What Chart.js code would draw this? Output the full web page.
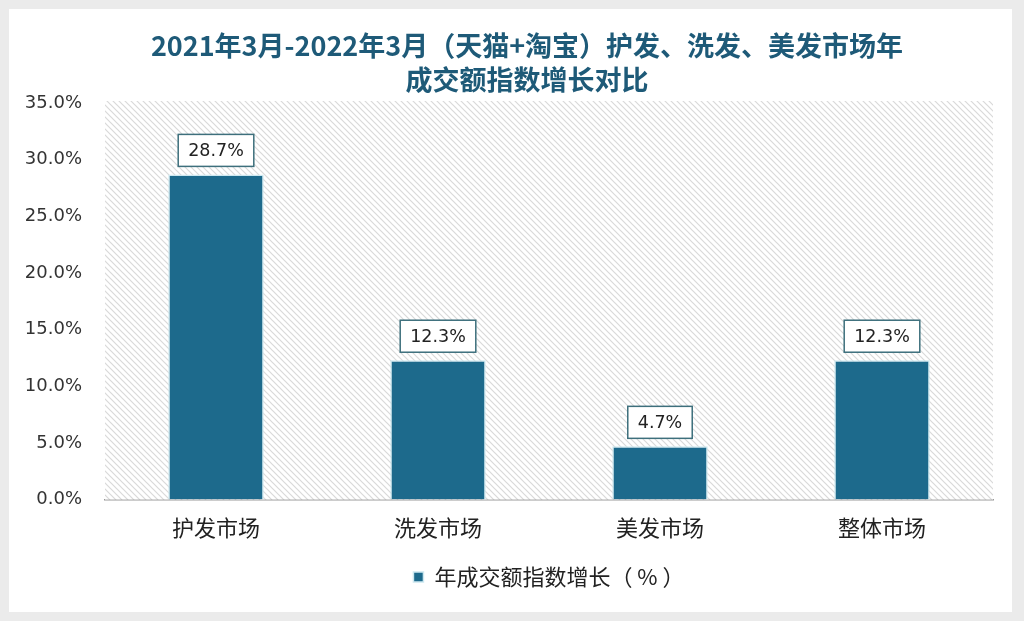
<!DOCTYPE html>
<html>
<head>
<meta charset="utf-8">
<script src="https://cdn.jsdelivr.net/npm/chart.js@4"></script>
<style>
  html, body { margin: 0; padding: 0; background: #ebebeb; }
  #card {
    position: absolute; left: 9px; top: 9px;
    width: 1003px; height: 603px; background: #fff;
  }
</style>
</head>
<body>
<div id="card"><canvas id="chart" width="1003" height="603"></canvas></div>
<script>
const categories = ["护发市场", "洗发市场", "美发市场", "整体市场"];
const growth = [28.7, 12.3, 4.7, 12.3];
const yTicks = [0, 5, 10, 15, 20, 25, 30, 35];
const seriesName = "年成交额指数增长（ % ）";
const titleLines = ["2021年3月-2022年3月（天猫+淘宝）护发、洗发、美发市场年", "成交额指数增长对比"];

// diagonal hatching behind the bars
function makeHatch() {
  const c = document.createElement("canvas");
  c.width = 6;
  c.height = 6;
  const g = c.getContext("2d");
  g.fillStyle = "#fff";
  g.fillRect(0, 0, 6, 6);
  g.strokeStyle = "#d9d9d9";
  g.lineWidth = 1.2;
  g.beginPath();
  g.moveTo(-1, -1); g.lineTo(7, 7);
  g.moveTo(-4, 2); g.lineTo(2, 8);
  g.moveTo(2, -4); g.lineTo(8, 2);
  g.stroke();
  return c;
}

const hatchBg = {
  id: "hatchBg",
  beforeDatasetsDraw(chart) {
    const { ctx, chartArea: a } = chart;
    ctx.save();
    ctx.fillStyle = ctx.createPattern(makeHatch(), "repeat");
    ctx.fillRect(a.left, a.top - 2, a.right - a.left, a.bottom - a.top + 2);
    ctx.restore();
  },
};

// the title sits a bit right of the canvas centre, so draw it by hand
const sideTitle = {
  id: "sideTitle",
  afterDraw(chart) {
    const { ctx } = chart;
    ctx.save();
    ctx.font = "bold 27px 'Noto Sans CJK SC'";
    ctx.fillStyle = "#1e5a78";
    ctx.textAlign = "center";
    ctx.textBaseline = "middle";
    titleLines.forEach((line, i) => ctx.fillText(line, 518, 37 + i * 34));
    ctx.restore();
  },
};

const boxLabels = {
  id: "boxLabels",
  afterDatasetsDraw(chart) {
    const { ctx } = chart;
    const meta = chart.getDatasetMeta(0);
    ctx.save();
    ctx.font = "17.5px 'DejaVu Sans'";
    ctx.textAlign = "center";
    ctx.textBaseline = "middle";
    meta.data.forEach((bar, i) => {
      const text = growth[i].toFixed(1) + "%";
      const w = ctx.measureText(text).width + 20;
      const h = 32;
      const x = bar.x - w / 2;
      const y = bar.y - 8 - h;
      ctx.fillStyle = "#fff";
      ctx.fillRect(x, y, w, h);
      ctx.strokeStyle = "#3d6f7c";
      ctx.lineWidth = 1.5;
      ctx.strokeRect(x, y, w, h);
      ctx.fillStyle = "#222";
      ctx.fillText(text, bar.x, y + h / 2 + 1);
    });
    ctx.restore();
  },
};

new Chart(document.getElementById("chart"), {
  type: "bar",
  data: {
    labels: categories,
    datasets: [
      {
        label: seriesName,
        data: growth,
        backgroundColor: "#1d6a8c",
        borderColor: "#cde8f0",
        borderWidth: 1.5,
        barPercentage: 0.43,
        categoryPercentage: 1,
      },
    ],
  },
  options: {
    responsive: false,
    animation: false,
    layout: { padding: { left: 0, right: 19, top: 94, bottom: 14 } },
    plugins: {
      title: { display: false },
      legend: {
        position: "bottom",
        fullSize: false,
        labels: {
          color: "#222",
          font: { family: "'Noto Sans CJK SC'", size: 22 },
          boxWidth: 10,
          boxHeight: 10,
          padding: 10,
        },
      },
      tooltip: { enabled: false },
    },
    scales: {
      x: {
        grid: { display: false, drawTicks: false },
        border: { display: true, color: "#999", width: 1.5 },
        ticks: {
          color: "#222",
          font: { family: "'Noto Sans CJK SC'", size: 22 },
          padding: 15,
        },
      },
      y: {
        min: 0,
        max: 35,
        grid: { display: false, drawTicks: false },
        border: { display: false },
        afterFit(scale) { scale.width = 96; },
        afterBuildTicks(scale) { scale.ticks = yTicks.map((v) => ({ value: v })); },
        ticks: {
          color: "#333",
          font: { family: "'DejaVu Sans'", size: 18 },
          padding: 23,
          callback: (v) => v.toFixed(1) + "%",
        },
      },
    },
  },
  plugins: [hatchBg, boxLabels, sideTitle],
});
</script>
</body>
</html>
